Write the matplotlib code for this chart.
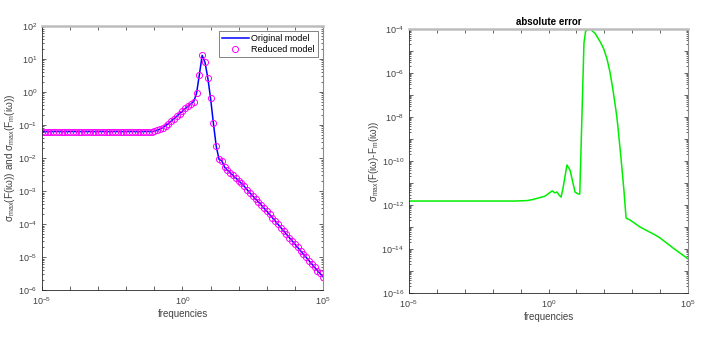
import numpy as np
import matplotlib
matplotlib.use("Agg")
import matplotlib.pyplot as plt
from matplotlib.ticker import FixedLocator, FuncFormatter, LogLocator, NullFormatter

plt.rcParams['font.family'] = ['Liberation Sans', 'DejaVu Sans']
plt.rcParams['mathtext.fontset'] = 'custom'
plt.rcParams['mathtext.rm'] = 'Liberation Sans'
plt.rcParams['mathtext.it'] = 'Liberation Sans:italic'

# frequency grid exponents (log10), 0.1 decade steps from 1e-5 to 1e5
freq_exp = np.linspace(-5, 5, 101)

# log10 of sigma_max for original / reduced model at each frequency
sigma_log = [-1.2] * 40 + [
    -1.19, -1.16, -1.13, -1.08, -1.02, -0.96, -0.88, -0.81, -0.73, -0.66,
    -0.58, -0.50, -0.43, -0.36, -0.29, -0.04, 0.52, 1.11, 0.90, 0.43,
    -0.19, -0.95, -1.64, -2.04, -2.08, -2.28, -2.37, -2.45, -2.53, -2.61,
    -2.69, -2.77, -2.86, -2.96, -3.06, -3.15, -3.24, -3.33, -3.42, -3.52,
    -3.61, -3.71, -3.81, -3.91, -4.01, -4.11, -4.21, -4.31, -4.41, -4.51,
    -4.61, -4.71, -4.81, -4.91, -5.01, -5.11, -5.21, -5.31, -5.41, -5.50,
    -5.60,
]

# absolute error curve (log10 frequency, log10 error)
err_freq_exp = [-5.0, -1.2, -0.77, -0.56, -0.30, -0.13, -0.02, 0.13, 0.23, 0.30,
                0.38, 0.45, 0.52, 0.66, 0.77, 0.95, 1.06, 1.12, 1.27, 1.33,
                1.42, 1.49, 1.67, 1.85, 1.97, 2.09, 2.20, 2.32, 2.44, 2.48,
                2.60, 2.70, 2.78, 2.92, 3.28, 3.82, 4.00, 4.46, 5.00]
err_log = [-11.82, -11.82, -11.80, -11.75, -11.66, -11.60, -11.50, -11.36, -11.45, -11.41,
           -11.55, -11.64, -11.23, -10.18, -10.41, -11.41, -11.50, -11.50, -4.64, -4.09,
           -4.03, -4.00, -4.20, -4.58, -4.88, -5.33, -5.94, -6.85, -7.91, -8.36,
           -9.90, -11.30, -12.60, -12.68, -13.00, -13.36, -13.50, -13.95, -14.45]

freqs = 10.0 ** freq_exp
sigma = 10.0 ** np.array(sigma_log)
err_freqs = 10.0 ** np.array(err_freq_exp)
err = 10.0 ** np.array(err_log)

fig = plt.figure(figsize=(7.08, 3.54), dpi=100)
ax1 = fig.add_axes([0.0593, 0.1808, 0.3969, 0.7458])
ax2 = fig.add_axes([0.5777, 0.1723, 0.3941, 0.7458])

ax1.loglog(freqs, sigma, color='#0000ff', lw=1.1, label='Original model')
ax1.loglog(freqs, sigma, 'o', mfc='none', mec='#ff00ff', ms=4.4, mew=0.7,
           label='Reduced model')
ax2.loglog(err_freqs, err, color='#00ee00', lw=1.1)


def xfmt(v, pos):
    e = int(round(np.log10(v)))
    return r'$10^{%d}$' % e if e in (-5, 0, 5) else ''


def style(ax, ylim, ylabel_every):
    ax.set_xlim(1e-5, 1e5)
    ax.set_ylim(*ylim)
    ax.xaxis.set_major_locator(FixedLocator(10.0 ** np.arange(-5, 6)))
    ax.xaxis.set_major_formatter(FuncFormatter(xfmt))
    ax.xaxis.set_minor_locator(FixedLocator([]))
    lo, hi = int(np.log10(ylim[0])), int(np.log10(ylim[1]))
    ax.yaxis.set_major_locator(FixedLocator(10.0 ** np.arange(lo, hi + 1)))
    ax.yaxis.set_major_formatter(FuncFormatter(
        lambda v, p: r'$10^{%d}$' % round(np.log10(v))
        if round(np.log10(v)) % ylabel_every == 0 else ''))
    ax.yaxis.set_minor_locator(LogLocator(base=10, subs=np.arange(2, 10), numticks=50))
    ax.yaxis.set_minor_formatter(NullFormatter())
    ax.tick_params(which='both', direction='in', top=True, right=True,
                   colors='#262626', labelcolor='#404040', labelsize=6.5,
                   width=0.5)
    ax.tick_params(which='major', length=3)
    ax.tick_params(which='minor', length=1.5)
    for s in ('left', 'bottom'):
        ax.spines[s].set_color('#262626')
        ax.spines[s].set_linewidth(0.6)
    ax.spines['right'].set_color('#8c8c8c')
    ax.spines['right'].set_linewidth(0.8)
    ax.spines['top'].set_color('#bdbdbd')
    ax.spines['top'].set_linewidth(1.8)
    ax.set_xlabel('frequencies', fontsize=7, color='#404040', labelpad=2)


style(ax1, (1e-6, 1e2), 1)
style(ax2, (1e-16, 1e-4), 2)

ax1.set_ylabel('σ$_{\\mathrm{max}}$(F(iω)) and σ$_{\\mathrm{max}}$(F$_{\\mathrm{m}}$(iω))',
               fontsize=7.2, color='#404040')
ax1.yaxis.set_label_coords(-0.088, 0.5)
ax2.set_ylabel('σ$_{\\mathrm{max}}$(F(iω)-F$_{\\mathrm{m}}$(iω))',
               fontsize=7, color='#404040')
ax2.yaxis.set_label_coords(-0.10, 0.5)
ax2.set_title('absolute error', fontsize=7, fontweight='bold', pad=3)

leg = ax1.legend(loc='upper right', fontsize=6.5, frameon=True, fancybox=False,
                 borderpad=0.3, handlelength=3.0, handletextpad=0.3,
                 labelspacing=0.25, borderaxespad=0.6)
leg.get_frame().set_edgecolor('#262626')
leg.get_frame().set_linewidth(0.5)

fig.savefig('out.png', dpi=100)
